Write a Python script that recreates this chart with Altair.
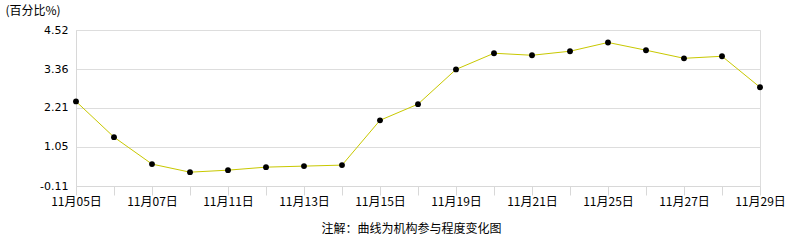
import altair as alt
import pandas as pd

dates = ["11月05日", "11月06日", "11月07日", "11月08日", "11月11日", "11月12日",
         "11月13日", "11月14日", "11月15日", "11月18日", "11月19日", "11月20日",
         "11月21日", "11月22日", "11月25日", "11月26日", "11月27日", "11月28日",
         "11月29日"]
values = [2.40, 1.34, 0.54, 0.30, 0.36, 0.45, 0.48, 0.51, 1.84, 2.32, 3.35,
          3.83, 3.77, 3.89, 4.15, 3.92, 3.68, 3.74, 2.82]
y_ticks = [-0.11, 1.05, 2.21, 3.36, 4.52]
y_tick_labels = ["-0.11", "1.05", "2.21", "3.36", "4.52"]
shown_labels = ["11月05日", "11月07日", "11月11日", "11月13日", "11月15日",
                "11月19日", "11月21日", "11月25日", "11月27日", "11月29日"]
y_title = "(百分比%)"
note = "注解：曲线为机构参与程度变化图"

df = pd.DataFrame({"date": dates, "value": values})

label_test = " || ".join([f"datum.value == '{s}'" for s in shown_labels])
y_label_expr = " : ".join(
    [f"abs(datum.value - ({v})) < 0.001 ? '{t}'" for v, t in zip(y_ticks, y_tick_labels)]
) + " : ''"

x_enc = alt.X(
    "date:O",
    sort=dates,
    scale=alt.Scale(type="point", padding=0),
    axis=alt.Axis(
        title=note,
        titleFont="Noto Sans CJK SC",
        titleFontSize=12,
        titleFontWeight="normal",
        titleColor="#000000",
        titleX=335,
        titleY=42,
        titleAnchor="middle",
        titleBaseline="middle",
        labelExpr=f"({label_test}) ? datum.value : ''",
        labelAngle=0,
        labelFont="Noto Sans CJK SC",
        labelFontSize=12,
        labelColor="#000000",
        labelPadding=1,
        labelOverlap=False,
        tickColor="#d8d8d8",
        tickSize=9,
        domain=True,
        domainColor="#d8d8d8",
        grid=False,
    ),
)

y_enc = alt.Y(
    "value:Q",
    scale=alt.Scale(domain=[-0.11, 4.52], nice=False, zero=False),
    axis=alt.Axis(
        values=y_ticks,
        tickCount=20,
        labelExpr=y_label_expr,
        labelOverlap=False,
        labelFlush=False,
        title=y_title,
        titleFont="Noto Sans CJK SC",
        titleFontSize=12,
        titleFontWeight="normal",
        titleColor="#000000",
        titleAngle=0,
        titleAlign="left",
        titleBaseline="middle",
        titleX=-71,
        titleY=-20,
        labelFont="DejaVu Sans",
        labelFontSize=11,
        labelColor="#000000",
        labelPadding=8,
        ticks=False,
        domainColor="#d8d8d8",
        grid=True,
        gridColor="#dddddd",
    ),
)

base = alt.Chart(df)
line = base.mark_line(color="#c8c800", strokeWidth=1).encode(x=x_enc, y=y_enc)
points = base.mark_circle(color="#000000", size=34, opacity=1).encode(
    x=alt.X("date:O", sort=dates), y="value:Q"
)

chart = (
    alt.layer(line, points)
    .properties(
        width=684,
        height=156,
        autosize=alt.AutoSizeParams(type="none"),
        padding={"left": 76, "top": 30, "right": 26, "bottom": 54},
    )
    .configure_view(stroke="#d8d8d8", strokeWidth=1)
    .configure(background="#ffffff")
)

chart.save("out.html", embed_options={"renderer": "svg", "actions": False})
